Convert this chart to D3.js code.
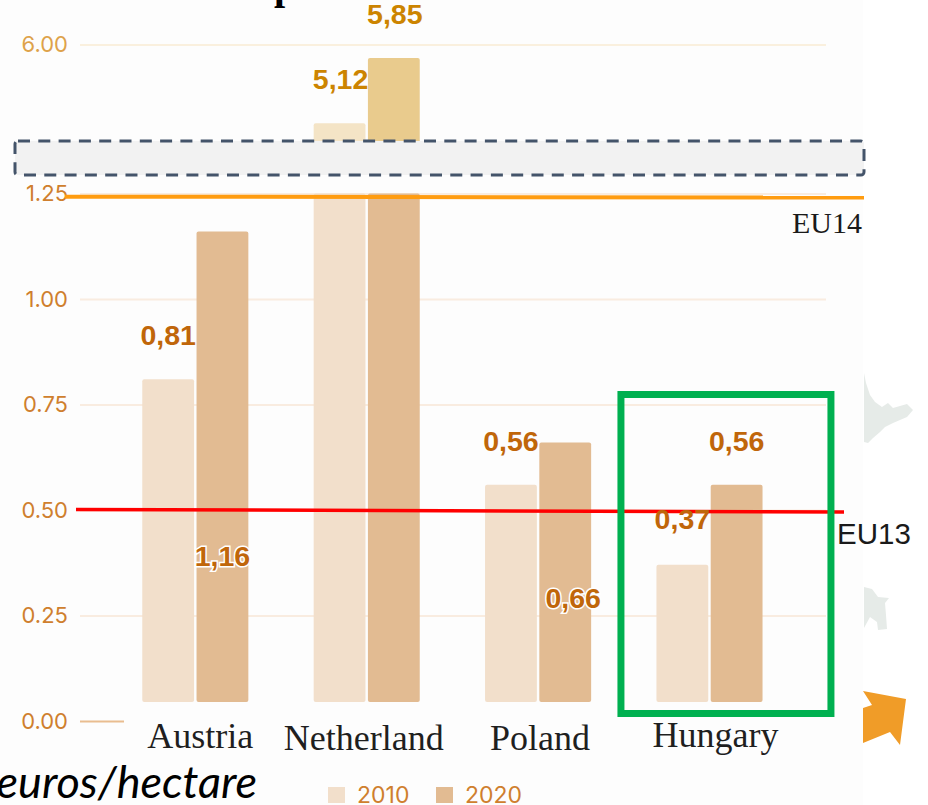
<!DOCTYPE html>
<html>
<head>
<meta charset="utf-8">
<script src="https://cdn.jsdelivr.net/npm/d3@7"></script>
<style>
  html, body { margin: 0; padding: 0; background: #fff; }
  svg { display: block; }
</style>
</head>
<body>
<div id="chart"></div>
<script>
// ---- data ----
const countries = ['Austria', 'Netherland', 'Poland', 'Hungary'];
const years = ['2010', '2020'];
const values2010 = [0.81, 5.12, 0.56, 0.37];
const values2020 = [1.16, 5.85, 0.66, 0.56];
const labels2010 = ['0,81', '5,12', '0,56', '0,37'];
const labels2020 = ['1,16', '5,85', '0,66', '0,56'];
const lowTicks = [0, 0.25, 0.5, 0.75, 1, 1.25];
const highTicks = [6];
const refNames = ['EU14', 'EU13'];
const refStart = [1.2425, 0.501];
const refEnd = [1.2405, 0.4955];

const outerW = 928,
  outerH = 805;

const svg = d3.select('#chart').append('svg')
  .attr('width', outerW)
  .attr('height', outerH);

// broken axis: two scales, gap is covered by the dashed band
const yLow = d3.scaleLinear().domain([0, 1.25]).range([721, 193.5]);
const yHigh = d3.scaleLinear().domain([4, 6]).range([223.2, 44.6]);
const breakTop = 141,
  breakBottom = 175,
  barFloor = 702;

const x = d3.scaleBand()
  .domain(countries)
  .range([109.7, 795.1])
  .paddingInner(0.381)
  .paddingOuter(0.19);

const xYear = d3.scaleBand()
  .domain(years)
  .range([0, x.bandwidth()])
  .paddingInner(0.045);

const rows = countries.flatMap((c, i) => [
  { country: c, year: '2010', value: values2010[i], label: labels2010[i] },
  { country: c, year: '2020', value: values2020[i], label: labels2020[i] }
]);

const lowColor = { 2010: '#f2dfcb', 2020: '#e2bb92' },
  highColor = { 2010: '#f4e4c6', 2020: '#e9cb8d' };

// off-white slide panel, the area right of it is pure white
svg.append('rect')
  .attr('width', 863)
  .attr('height', outerH)
  .attr('fill', '#fdfdfd');

// bottom of a cropped title
svg.append('text')
  .attr('x', 274)
  .attr('y', -1)
  .style('font', 'bold 40px "Liberation Serif"')
  .attr('fill', '#000')
  .text('p');

// map scraps and arrow at the right border
const deco = svg.append('g');
deco.append('path')
  .attr('d', 'M864,373L866,383L870,395L875,402L882,407L888,403L893,408L907,404L913,410L907,417L893,423L885,427L880,432L873,438L868,443L864,442Z')
  .attr('fill', '#e6ebe8');
deco.append('path')
  .attr('d', 'M864,587L872,589L878,597L889,598L885,603L886,615L887,629L878,630L877,622L870,617L864,628Z')
  .attr('fill', '#e6ebe8');
deco.append('path')
  .attr('d', 'M863,691L906,699L900,745L890,732L863,743L863,708L872,705Z')
  .attr('fill', '#f09c28');

// ---- axes ----
const tickFont = '22px Inter',
  legendFont = '23px Inter';

function styleAxis(g, gridColor, textColor) {
  g.select('.domain').remove();
  g.selectAll('.tick line').attr('stroke', gridColor).attr('stroke-width', 2);
  g.selectAll('.tick text')
    .style('font', tickFont)
    .attr('fill', textColor);
}

const axisLow = svg.append('g')
  .attr('transform', 'translate(80,0)')
  .call(d3.axisLeft(yLow)
    .tickValues(lowTicks)
    .tickFormat(d3.format('.2f'))
    .tickSizeInner(-746)
    .tickSizeOuter(0)
    .tickPadding(12));
styleAxis(axisLow, '#f9ece0', '#cf7f2e');
// the zero line is only a short stub
axisLow.selectAll('.tick line')
  .filter(d => d === 0)
  .attr('x2', 44)
  .attr('stroke', '#e9bd90');

const axisHigh = svg.append('g')
  .attr('transform', 'translate(80,0)')
  .call(d3.axisLeft(yHigh)
    .tickValues(highTicks)
    .tickFormat(d3.format('.2f'))
    .tickSizeInner(-746)
    .tickSizeOuter(0)
    .tickPadding(12));
styleAxis(axisHigh, '#faf0de', '#dea24a');

// ---- bars ----
const barX = d => x(d.country) + xYear(d.year);

svg.append('g')
  .selectAll('rect')
  .data(rows)
  .join('rect')
  .attr('x', barX)
  .attr('width', xYear.bandwidth())
  .attr('y', d => yLow(Math.min(d.value, 1.25)))
  .attr('height', d => barFloor - yLow(Math.min(d.value, 1.25)))
  .attr('rx', 2)
  .attr('fill', d => lowColor[d.year]);

// part of the tall bars above the axis break
svg.append('g')
  .selectAll('rect')
  .data(rows.filter(d => d.value > 1.25))
  .join('rect')
  .attr('x', barX)
  .attr('width', xYear.bandwidth())
  .attr('y', d => yHigh(d.value))
  .attr('height', d => breakTop + 2 - yHigh(d.value))
  .attr('rx', 2)
  .attr('fill', d => highColor[d.year]);

// dashed band over the break
svg.append('rect')
  .attr('x', 15)
  .attr('y', breakTop)
  .attr('width', 849)
  .attr('height', breakBottom - breakTop)
  .attr('rx', 3)
  .attr('fill', '#f2f2f2')
  .attr('stroke', '#44546a')
  .attr('stroke-width', 3)
  .attr('stroke-dasharray', '12 8.3');

// ---- reference lines ----
const refColor = { EU14: '#ff9c10', EU13: '#ff0000' },
  refX0 = { EU14: 65, EU13: 76 },
  refX1 = { EU14: 864, EU13: 844 },
  refWidth = { EU14: 4, EU13: 3.5 };

svg.append('g')
  .selectAll('line')
  .data(refNames)
  .join('line')
  .attr('x1', d => refX0[d])
  .attr('x2', d => refX1[d])
  .attr('y1', (d, i) => yLow(refStart[i]))
  .attr('y2', (d, i) => yLow(refEnd[i]))
  .attr('stroke', d => refColor[d])
  .attr('stroke-width', d => refWidth[d]);

svg.append('text')
  .attr('x', 862)
  .attr('y', 233)
  .attr('text-anchor', 'end')
  .style('font', '30px "Liberation Serif"')
  .attr('fill', '#1a1a1a')
  .text(refNames[0]);

svg.append('text')
  .attr('x', 837)
  .attr('y', 544)
  .style('font', '29.5px "Liberation Sans"')
  .attr('fill', '#1a1a1a')
  .text(refNames[1]);

// green highlight round the last group
svg.append('rect')
  .attr('x', x('Hungary') - 35.5)
  .attr('y', 394.5)
  .attr('width', 210)
  .attr('height', 319)
  .attr('fill', 'none')
  .attr('stroke', '#00b050')
  .attr('stroke-width', 7);

// ---- value labels, they sit loosely around the bars in the source ----
const labelNudge = {
  'Austria2010': [0, -44], 'Austria2020': [0, 325],
  'Netherland2010': [1, -44], 'Netherland2020': [1, -44],
  'Poland2010': [0, -44], 'Poland2020': [8, 156],
  'Hungary2010': [0, -46], 'Hungary2020': [0, -44]
};
const barTop = d => d.value > 1.25 ? yHigh(d.value) : yLow(d.value);

svg.append('g')
  .selectAll('text')
  .data(rows)
  .join('text')
  .attr('x', d => barX(d) + xYear.bandwidth() / 2 + labelNudge[d.country + d.year][0])
  .attr('y', d => barTop(d) + labelNudge[d.country + d.year][1])
  .attr('dy', '0.35em')
  .attr('text-anchor', 'middle')
  .style('font', 'bold 28.5px "Liberation Sans"')
  .style('paint-order', 'stroke')
  .attr('stroke', d => d.country + d.year === 'Austria2020' || d.country + d.year === 'Poland2020' ? '#fff' : 'none')
  .attr('stroke-width', 3)
  .attr('fill', d => d.value > 1.25 ? '#cc8400' : '#c0660a')
  .text(d => d.label);

// ---- category labels ----
const catNudge = { Austria: [5, 748], Netherland: [-3, 750], Poland: [2, 750], Hungary: [6, 747] };

svg.append('g')
  .selectAll('text')
  .data(countries)
  .join('text')
  .attr('x', d => x(d) + x.bandwidth() / 2 + catNudge[d][0])
  .attr('y', d => catNudge[d][1])
  .attr('text-anchor', 'middle')
  .style('font', '36px "Liberation Serif"')
  .attr('fill', '#1f1f1f')
  .text(d => d);

// unit note, cut by the left border
svg.append('text')
  .attr('x', 257)
  .attr('y', 798)
  .attr('text-anchor', 'end')
  .style('font', 'italic 45px Lato')
  .attr('fill', '#000')
  .text('euros/hectare');

// ---- legend ----
const legendColor = d3.scaleOrdinal().domain(years).range([lowColor[2010], lowColor[2020]]);
const legendX = d3.scalePoint().domain(years).range([328, 436]);

const legend = svg.append('g')
  .selectAll('g')
  .data(years)
  .join('g')
  .attr('transform', d => `translate(${legendX(d)},787)`);

legend.append('rect')
  .attr('width', 17)
  .attr('height', 16)
  .attr('fill', d => legendColor(d));

legend.append('text')
  .attr('x', 29)
  .attr('y', 8)
  .attr('dy', '0.35em')
  .style('font', legendFont)
  .attr('fill', '#cf7f2e')
  .text(d => d);
</script>
</body>
</html>
